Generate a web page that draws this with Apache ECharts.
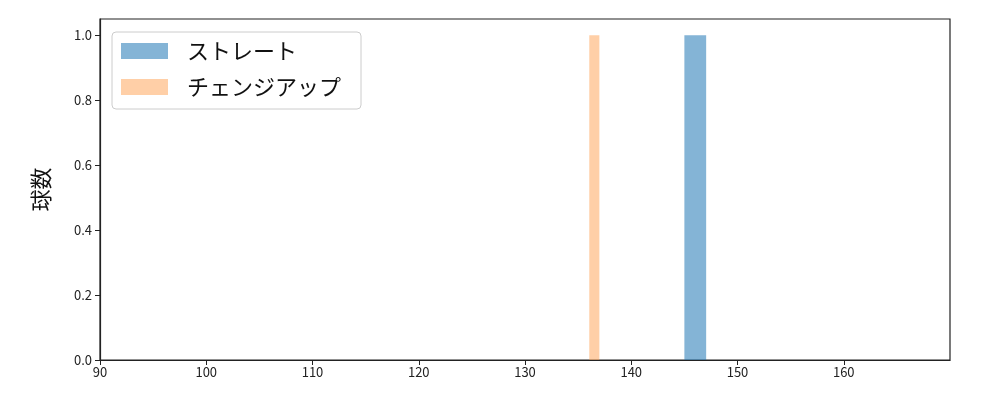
<!DOCTYPE html>
<html>
<head>
<meta charset="utf-8">
<script src="https://cdn.jsdelivr.net/npm/echarts@6/dist/echarts.min.js"></script>
<style>
  html, body { margin: 0; padding: 0; background: #fff; }
  #chart { width: 1000px; height: 400px; }
</style>
</head>
<body>
<div id="chart"></div>
<script>
// bins: [start, end, count]
const straightBins = [[145.0, 147.05, 1]]
const changeupBins = [[136.05, 137.0, 1]]
const seriesNames = ['ストレート', 'チェンジアップ']
const seriesColors = ['rgba(31,119,180,0.55)', 'rgba(255,160,80,0.5)']
const xTicks = [90, 100, 110, 120, 130, 140, 150, 160]
const yTicks = [0, 0.2, 0.4, 0.6, 0.8, 1.0]

const chart = echarts.init(document.getElementById('chart'))
const font = "'Noto Sans CJK JP', 'DejaVu Sans', sans-serif"

function histSeries (name, bins, color) {
  return {
    name: name,
    type: 'custom',
    itemStyle: { color: color },
    encode: { x: [0, 1], y: 2 },
    data: bins,
    renderItem (params, api) {
      const p0 = api.coord([api.value(0), 0])
      const p1 = api.coord([api.value(1), api.value(2)])
      return {
        type: 'rect',
        shape: { x: p0[0], y: p1[1], width: p1[0] - p0[0], height: p0[1] - p1[1] },
        style: { fill: color }
      }
    }
  }
}

const option = {
  animation: false,
  textStyle: { fontFamily: font },
  grid: {
    left: 100, right: 50, top: 19, bottom: 40,
    show: true, borderColor: '#222', borderWidth: 1.2
  },
  legend: {
    left: 112, top: 32,
    orient: 'vertical',
    padding: [8, 20, 11, 9],
    itemGap: 14,
    itemWidth: 47, itemHeight: 16,
    borderColor: '#ccc', borderWidth: 1, borderRadius: 4,
    icon: 'rect',
    textStyle: { fontSize: 22, color: '#111', fontFamily: font, padding: [0, 0, 0, 14] },
    data: seriesNames.map((n, i) => ({ name: n, itemStyle: { color: seriesColors[i] } }))
  },
  xAxis: {
    type: 'value', min: 90, max: 170, interval: 10,
    splitLine: { show: false },
    axisLine: { onZero: false, lineStyle: { color: '#222', width: 1.2 } },
    axisTick: { length: 5, lineStyle: { color: '#222' }, customValues: xTicks },
    axisLabel: { color: '#222', fontSize: 13, margin: 6, customValues: xTicks }
  },
  yAxis: {
    type: 'value', min: 0, max: 1.05,
    name: '球数', nameLocation: 'middle', nameGap: 48, nameRotate: 90,
    nameTextStyle: { fontSize: 22, color: '#111', fontFamily: font },
    splitLine: { show: false },
    axisLine: { show: true, lineStyle: { color: '#222', width: 1.2 } },
    axisTick: { show: true, length: 5, lineStyle: { color: '#222' }, customValues: yTicks },
    axisLabel: {
      color: '#222', fontSize: 13, margin: 8, customValues: yTicks,
      formatter: v => v.toFixed(1)
    }
  },
  series: [
    histSeries(seriesNames[0], straightBins, seriesColors[0]),
    histSeries(seriesNames[1], changeupBins, seriesColors[1])
  ]
}
chart.setOption(option)
</script>
</body>
</html>
